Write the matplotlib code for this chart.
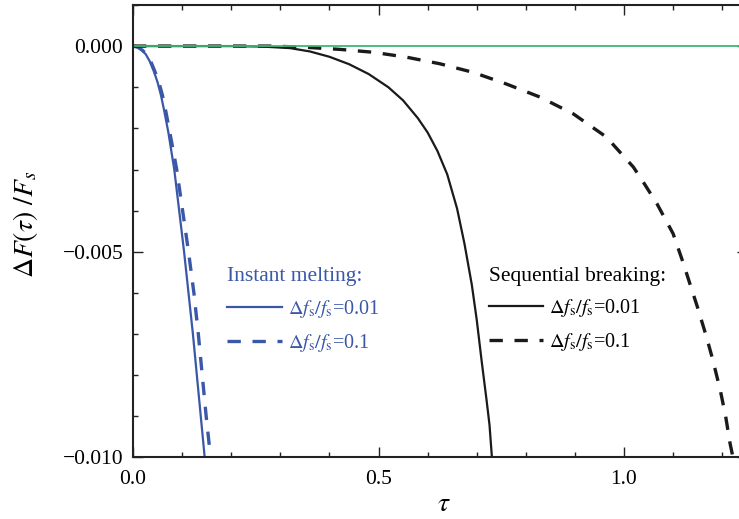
import matplotlib
matplotlib.use("Agg")
import matplotlib.pyplot as plt
from matplotlib.ticker import MultipleLocator, FuncFormatter

plt.rcParams['font.family'] = ['Liberation Serif', 'DejaVu Serif']
plt.rcParams['mathtext.fontset'] = 'stix'

blue = '#3a57a8'
green = '#3cb878'

# instant melting, df/f = 0.01 and 0.1
tau_im1 = [0, 0.010, 0.018, 0.026, 0.034, 0.042, 0.050, 0.057, 0.064, 0.072, 0.084, 0.094, 0.104, 0.113, 0.122, 0.130, 0.138, 0.146]
dF_im1 = [0, -0.00003, -0.0001, -0.0002, -0.00037, -0.0006, -0.00088, -0.0012, -0.0016, -0.0021, -0.003, -0.004, -0.005, -0.006, -0.007, -0.008, -0.009, -0.010]
tau_im2 = [0, 0.010, 0.019, 0.028, 0.036, 0.044, 0.052, 0.060, 0.067, 0.075, 0.089, 0.101, 0.113, 0.124, 0.133, 0.141, 0.149, 0.158]
dF_im2 = [0, -0.00003, -0.0001, -0.0002, -0.00037, -0.0006, -0.00085, -0.0012, -0.0016, -0.0021, -0.003, -0.004, -0.005, -0.006, -0.007, -0.008, -0.009, -0.010]

# sequential breaking
tau_sb1 = [0, 0.20, 0.26, 0.32, 0.36, 0.40, 0.44, 0.48, 0.52, 0.55, 0.58, 0.60, 0.62, 0.64, 0.66, 0.675, 0.69, 0.70, 0.71, 0.72, 0.726, 0.731]
dF_sb1 = [0, 0, -0.00001, -0.00005, -0.00013, -0.00026, -0.00044, -0.00068, -0.0010, -0.00132, -0.00175, -0.0021, -0.00255, -0.00312, -0.00395, -0.0048, -0.0058, -0.00665, -0.00765, -0.0086, -0.0092, -0.0100]
tau_sb2 = [0, 0.2, 0.285, 0.353, 0.421, 0.489, 0.557, 0.625, 0.693, 0.760, 0.829, 0.897, 0.964, 1.019, 1.040, 1.067, 1.100, 1.120, 1.134, 1.150, 1.168, 1.180, 1.196, 1.207, 1.216, 1.222]
dF_sb2 = [0, 0, 0, -0.00003, -0.00008, -0.00015, -0.00027, -0.00043, -0.00064, -0.00092, -0.00124, -0.00165, -0.00221, -0.00294, -0.00332, -0.00383, -0.00456, -0.00525, -0.00577, -0.00636, -0.00707, -0.00759, -0.00836, -0.0090, -0.00966, -0.0100]

tau_ref = [0, 1.25]
dF_ref = [0, 0]

lab1 = r'$\Delta f_{\rm s}/f_{\rm s}$=0.01'
lab2 = r'$\Delta f_{\rm s}/f_{\rm s}$=0.1'

fig = plt.figure(figsize=(7.39, 5.19), dpi=100)
ax = fig.add_axes([0.18, 0.1185, 0.8305, 0.872])

l1, = ax.plot(tau_im1, dF_im1, color=blue, lw=1.6)
l2, = ax.plot(tau_im2, dF_im2, color=blue, lw=2.4, dashes=(4, 3.5))
k1, = ax.plot(tau_sb1, dF_sb1, color='#1a1a1a', lw=1.6)
k2, = ax.plot(tau_sb2, dF_sb2, color='#1a1a1a', lw=2.4, dashes=(4, 3.5))
ax.plot(tau_ref, dF_ref, color=green, lw=1.3)

ax.set_xlim(0, 1.25)
ax.set_ylim(-0.010, 0.001)
ax.xaxis.set_major_locator(MultipleLocator(0.5))
ax.xaxis.set_minor_locator(MultipleLocator(0.1))
ax.yaxis.set_major_locator(MultipleLocator(0.005))
ax.yaxis.set_minor_locator(MultipleLocator(0.001))
ax.xaxis.set_major_formatter(FuncFormatter(lambda v, p: ('%.1f' % v).replace('-', '\u2212')))
ax.yaxis.set_major_formatter(FuncFormatter(lambda v, p: ('%.3f' % (0 if abs(v) < 1e-9 else v)).replace('-', '\u2212')))
ax.tick_params(which='both', direction='in', top=True, right=True, width=1.0, labelsize=15.5, color='#222222')
ax.tick_params(which='major', length=7)
ax.tick_params(which='minor', length=3.6)
ax.tick_params(axis='y', pad=7)
ax.tick_params(axis='x', pad=9)
for s in ax.spines.values():
    s.set_linewidth(1.5)
    s.set_color('#222222')

ax.set_xlabel(r'$\tau$', fontsize=20)
ax.set_ylabel(r'$\Delta F(\tau)\ /F_s$', fontsize=20)
ax.xaxis.set_label_coords(0.5065, -0.077)
ax.yaxis.set_label_coords(-0.152, 0.515)

leg1 = ax.legend(handles=[l1, l2], labels=[lab1, lab2], title='Instant melting:',
                 loc='upper left', bbox_to_anchor=(0.1537, 0.42), frameon=False,
                 fontsize=14.5, title_fontsize=15.5, alignment='left',
                 handlelength=2.7, handletextpad=0.3, labelspacing=0.58,
                 borderpad=0, borderaxespad=0)
leg1.get_title().set_color(blue)
for t in leg1.get_texts():
    t.set_color(blue)
ax.add_artist(leg1)

leg2 = ax.legend(handles=[k1, k2], labels=[lab1, lab2], title='Sequential breaking:',
                 loc='upper left', bbox_to_anchor=(0.58, 0.422), frameon=False,
                 fontsize=14.5, title_fontsize=15.5, alignment='left',
                 handlelength=2.7, handletextpad=0.3, labelspacing=0.58,
                 borderpad=0, borderaxespad=0)

fig.savefig('out.png', dpi=100)
